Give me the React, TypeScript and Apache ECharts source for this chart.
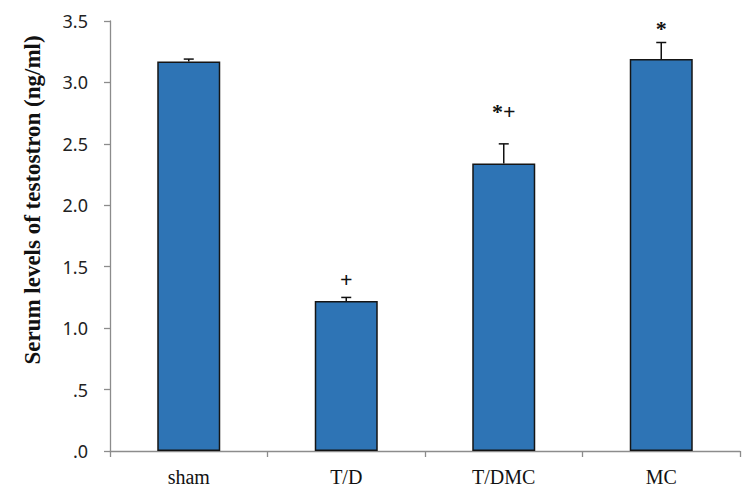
import React, { useEffect, useRef } from "react";
import * as echarts from "echarts";

const categories = ["sham", "T/D", "T/DMC", "MC"];
const means = [3.17, 1.22, 2.34, 3.19];
const errors = [0.02, 0.03, 0.16, 0.135];
const annotations = ["", "+", "*+", "*"];
const yTicks = [0, 0.5, 1, 1.5, 2, 2.5, 3, 3.5];
const yAxisTitle = "Serum levels of testostron (ng/ml)";

const annotationGap = [0, 18, 32, 14];

export default function App() {
  const ref = useRef<HTMLDivElement>(null);
  useEffect(() => {
    if (!ref.current) return;
    const chart = echarts.init(ref.current, null, { renderer: "svg" });
    const errData = categories.map((_, i) => [i, means[i], means[i] + errors[i], i]);
    chart.setOption({
      animation: false,
      backgroundColor: "#ffffff",
      grid: { left: 110, right: 14, top: 21, bottom: 40, containLabel: false },
      xAxis: {
        type: "category",
        data: categories,
        boundaryGap: true,
        axisLine: { lineStyle: { color: "#8c8c8c", width: 1.3 } },
        axisTick: { show: true, length: 6, alignWithLabel: false, lineStyle: { color: "#8c8c8c", width: 1.3 } },
        axisLabel: {
          margin: 16,
          fontFamily: "Liberation Serif",
          fontSize: 20,
          color: "#111111",
        },
      },
      yAxis: {
        type: "value",
        min: yTicks[0],
        max: yTicks[yTicks.length - 1],
        interval: 0.5,
        splitLine: { show: false },
        axisLine: { show: true, lineStyle: { color: "#8c8c8c", width: 1.3 } },
        axisTick: { show: true, length: 6, lineStyle: { color: "#8c8c8c", width: 1.3 } },
        axisLabel: {
          margin: 22,
          fontFamily: "Noto Sans",
          fontSize: 18,
          color: "#222222",
          formatter: (v: number) => {
            if (v === 0) return ".0";
            if (v < 1) return "." + Math.round(v * 10);
            return v.toFixed(1);
          },
        },
      },
      graphic: [
        {
          type: "text",
          x: 32,
          y: 200,
          rotation: Math.PI / 2,
          style: {
            text: yAxisTitle,
            fontFamily: "Liberation Serif",
            fontWeight: "bold",
            fontSize: 23,
            fill: "#111111",
            align: "center",
            verticalAlign: "middle",
          },
        },
      ],
      series: [
        {
          type: "bar",
          data: means,
          barWidth: "40%",
          itemStyle: { color: "#2E74B5", borderColor: "#151515", borderWidth: 1.5 },
        },
        {
          type: "custom",
          data: errData,
          z: 5,
          renderItem: (params: any, api: any) => {
            const i = api.value(0);
            const base = api.coord([i, api.value(1)]);
            const top = api.coord([i, api.value(2)]);
            const idx = api.value(3);
            const half = 5;
            const style = { stroke: "#111111", lineWidth: 1.5 };
            const children: any[] = [
              { type: "line", shape: { x1: base[0], y1: base[1], x2: top[0], y2: top[1] }, style },
              { type: "line", shape: { x1: top[0] - half, y1: top[1], x2: top[0] + half, y2: top[1] }, style },
            ];
            const label = annotations[idx];
            if (label) {
              children.push({
                type: "text",
                x: top[0],
                y: top[1] - annotationGap[idx],
                style: {
                  text: label,
                  fontFamily: "Liberation Serif",
                  fontWeight: "bold",
                  fontSize: 22,
                  fill: "#111111",
                  align: "center",
                  verticalAlign: "middle",
                },
              });
            }
            return { type: "group", children };
          },
        },
      ],
    });
    return () => chart.dispose();
  }, []);
  return <div ref={ref} style={{ width: 754, height: 491, position: "absolute", left: 0, top: 0 }} />;
}
